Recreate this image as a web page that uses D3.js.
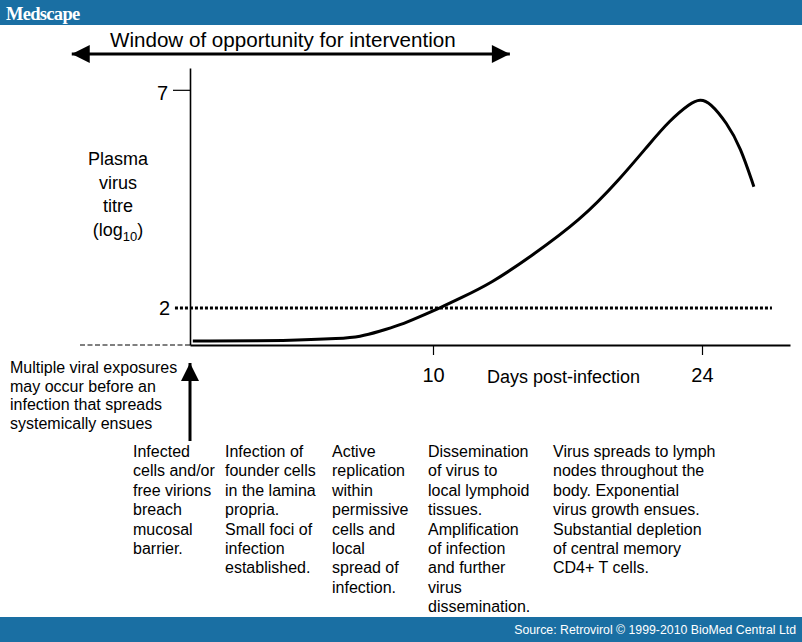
<!DOCTYPE html>
<html>
<head>
<meta charset="utf-8">
<script src="https://cdn.jsdelivr.net/npm/d3@7"></script>
<style>
  html, body { margin: 0; padding: 0; background: #fff; }
  svg { display: block; }
  text { font-family: "Liberation Sans", Arial, Helvetica, sans-serif; fill: #000; }
</style>
</head>
<body>
<svg id="chart" width="802" height="642"></svg>
<script>
// ---- Data ----
const days  = [-2.5, 2.6, 5.2, 6.2, 7.2, 8.3, 9.3, 10.4, 11.4, 13.0, 15.0, 17.7, 19.7, 21.3, 22.3, 23.4, 23.9, 24.4, 25.3, 26.0, 26.7];
const titre = [1.24, 1.25, 1.30, 1.34, 1.46, 1.61, 1.80, 2.01, 2.22, 2.56, 3.15, 4.02, 4.94, 5.78, 6.29, 6.70, 6.79, 6.72, 6.24, 5.69, 4.78];
const xTicks = [10, 24];
const yTicks = [7, 2];
const threshold = 2;
const thresholdDays = [-3.43, 27.64];
const windowDays = [-8.8, 14.0];
const windowLabel = "Window of opportunity for intervention";
const yLabel = ["Plasma", "virus", "titre", "(log"];
const xLabel = "Days post-infection";
const exposureNote = ["Multiple viral exposures", "may occur before an", "infection that spreads", "systemically ensues"];
const stages = [
  ["Infected", "cells and/or", "free virions", "breach", "mucosal", "barrier."],
  ["Infection of", "founder cells", "in the lamina", "propria.", "Small foci of", "infection", "established."],
  ["Active", "replication", "within", "permissive", "cells and", "local", "spread of", "infection."],
  ["Dissemination", "of virus to", "local lymphoid", "tissues.", "Amplification", "of infection", "and further", "virus", "dissemination."],
  ["Virus spreads to lymph", "nodes throughout the", "body. Exponential", "virus growth ensues.", "Substantial depletion", "of central memory", "CD4+ T cells."]
];
const source = "Source: Retrovirol \u00A9 1999-2010 BioMed Central Ltd";

// ---- Layout ----
const W = 802, H = 642;
const svg = d3.select("#chart");
const blue = "#1a6fa3";

const x = d3.scaleLinear().domain([-2.647, 28.58]).range([190, 790]);
const y = d3.scaleLinear().domain([1.151, 7.5]).range([345, 68]);

// header & footer
svg.append("rect").attr("x", 0).attr("y", 0).attr("width", W).attr("height", 25).attr("fill", blue);
svg.append("text").attr("x", 6).attr("y", 20)
  .style("font-family", "'Liberation Serif', 'Times New Roman', serif")
  .style("font-size", "18.5px").style("font-weight", "bold").style("letter-spacing", "-0.7px")
  .style("fill", "#fff").text("Medscape");
svg.append("rect").attr("x", 0).attr("y", 617).attr("width", W).attr("height", 25).attr("fill", blue);
svg.append("text").attr("x", 796).attr("y", 634).attr("text-anchor", "end")
  .style("font-size", "12.3px").style("fill", "#fff").text(source);

// markers
const defs = svg.append("defs");
defs.append("marker").attr("id", "ah").attr("viewBox", "0 0 10 10")
  .attr("refX", 10).attr("refY", 5).attr("markerWidth", 7).attr("markerHeight", 6)
  .attr("markerUnits", "strokeWidth").attr("orient", "auto-start-reverse")
  .append("path").attr("d", "M0,0 L10,5 L0,10 Z").attr("fill", "#000");

// window arrow
svg.append("line")
  .attr("x1", x(windowDays[0])).attr("x2", x(windowDays[1]))
  .attr("y1", 54).attr("y2", 54)
  .attr("stroke", "#000").attr("stroke-width", 3)
  .attr("marker-start", "url(#ah)").attr("marker-end", "url(#ah)");
svg.append("text").attr("x", 110).attr("y", 47).style("font-size", "20.6px").text(windowLabel);

// threshold dotted line
svg.append("line")
  .attr("x1", x(thresholdDays[0])).attr("x2", x(thresholdDays[1]))
  .attr("y1", y(threshold)).attr("y2", y(threshold))
  .attr("stroke", "#000").attr("stroke-width", 3).attr("stroke-dasharray", "3,2");

// baseline dashed extension
svg.append("line")
  .attr("x1", 80).attr("x2", x.range()[0])
  .attr("y1", y.range()[0]).attr("y2", y.range()[0])
  .attr("stroke", "#000").attr("stroke-width", 1).attr("stroke-dasharray", "5,2.5");

// axes
const yAxis = svg.append("g").attr("transform", `translate(${x.range()[0]},0)`)
  .call(d3.axisLeft(y).tickValues(yTicks).tickSize(17).tickSizeOuter(0).tickPadding(5).tickFormat(d3.format("d")));
yAxis.select(".domain").attr("stroke-width", 1.6);
yAxis.selectAll(".tick line").attr("stroke-width", 1.2)
  .attr("display", d => d === threshold ? "none" : null);
yAxis.selectAll(".tick text")
  .style("font-size", "20px").style("font-family", "'Liberation Sans', Arial, sans-serif")
  .attr("dy", d => d === threshold ? "0.32em" : "0.48em")
  .attr("x", d => d === threshold ? -20 : -22);

const xAxis = svg.append("g").attr("transform", `translate(0,${y.range()[0]})`)
  .call(d3.axisBottom(x).tickValues(xTicks).tickSize(10).tickSizeOuter(0).tickPadding(13).tickFormat(d3.format("d")));
xAxis.select(".domain").attr("stroke-width", 1.8);
xAxis.selectAll(".tick line").attr("stroke-width", 1.2);
xAxis.selectAll(".tick text")
  .style("font-size", "20px").style("font-family", "'Liberation Sans', Arial, sans-serif");

// axis titles
svg.append("text").attr("x", 487).attr("y", 383).style("font-size", "18px").text(xLabel);
const yl = svg.append("g");
yLabel.forEach((t, i) => {
  const tx = yl.append("text").attr("x", 118).attr("y", 165 + i * 23.5)
    .attr("text-anchor", "middle").style("font-size", "18px").text(t);
  if (i === yLabel.length - 1) {
    tx.append("tspan").attr("dy", 5).style("font-size", "13px").text("10");
    tx.append("tspan").attr("dy", -5).text(")");
  }
});

// curve
const line = d3.line().x(d => x(d[0])).y(d => y(d[1])).curve(d3.curveBasis);
svg.append("path").datum(days.map((d, i) => [d, titre[i]]))
  .attr("d", line).attr("fill", "none").attr("stroke", "#000")
  .attr("stroke-width", 3).attr("stroke-linejoin", "round").attr("stroke-linecap", "butt");

// exposure note
exposureNote.forEach((t, i) => {
  svg.append("text").attr("x", 10).attr("y", 373 + i * 18.7).style("font-size", "16px").text(t);
});

// upward arrow
svg.append("line").attr("x1", x.range()[0]).attr("x2", x.range()[0])
  .attr("y1", 441).attr("y2", 363)
  .attr("stroke", "#000").attr("stroke-width", 3)
  .attr("marker-end", "url(#ah)");

// stage columns
const colX = [133, 225, 332, 428, 553];
stages.forEach((lines, c) => {
  lines.forEach((t, i) => {
    svg.append("text").attr("x", colX[c]).attr("y", 457 + i * 19.4)
      .style("font-size", "16px").text(t);
  });
});
</script>
</body>
</html>
